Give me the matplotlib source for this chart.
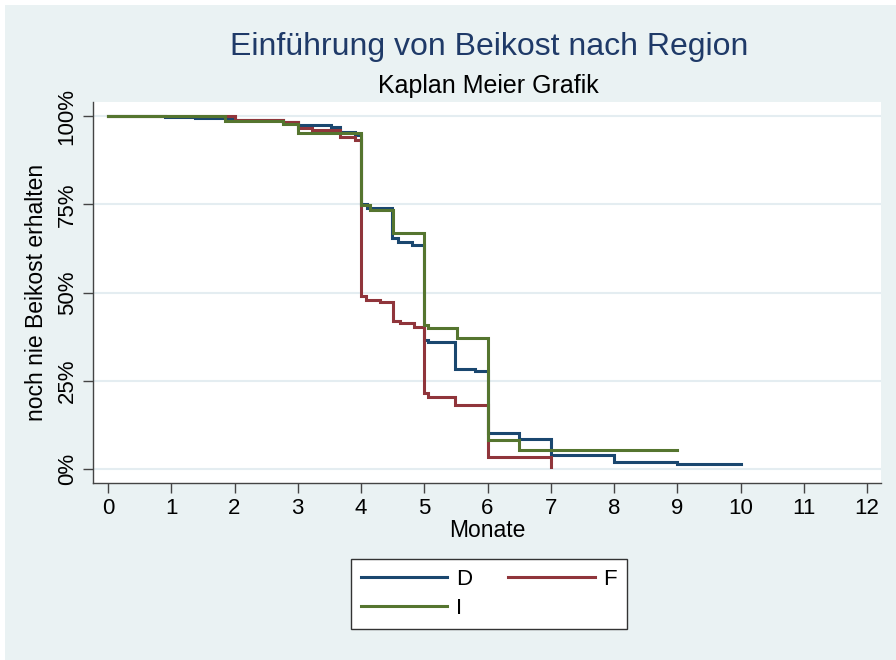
import matplotlib
matplotlib.use("Agg")
import matplotlib.pyplot as plt
from matplotlib.patches import Rectangle

plt.rcParams['font.family'] = ['Liberation Sans', 'DejaVu Sans']

# Survival data (months, survival proportion)
d_time = [0, 0.9, 1.37, 2.0, 2.77, 3.0, 3.52, 3.67, 3.9, 4.0, 4.09, 4.49, 4.59, 4.8,
          5.0, 5.06, 5.49, 5.8, 6.0, 6.5, 7.0, 8.0, 9.0, 10.0]
d_surv = [1.0, 0.998, 0.995, 0.99, 0.984, 0.975, 0.968, 0.955, 0.946, 0.751, 0.739,
          0.654, 0.644, 0.635, 0.365, 0.36, 0.283, 0.278, 0.101, 0.085, 0.04, 0.019,
          0.014, 0.014]

f_time = [0, 2.0, 2.77, 3.0, 3.23, 3.67, 3.9, 4.0, 4.08, 4.3, 4.5, 4.62, 4.83,
          5.0, 5.06, 5.49, 6.0, 7.0]
f_surv = [1.0, 0.99, 0.982, 0.966, 0.96, 0.94, 0.932, 0.49, 0.478, 0.472, 0.42,
          0.414, 0.403, 0.215, 0.205, 0.181, 0.035, 0.005]

i_time = [0, 1.85, 2.77, 3.0, 4.0, 4.14, 4.5, 5.0, 5.06, 5.51, 6.0, 6.5, 9.0]
i_surv = [1.0, 0.987, 0.977, 0.953, 0.748, 0.734, 0.668, 0.408, 0.399, 0.371,
          0.082, 0.054, 0.054]

series_names = ["D", "F", "I"]
colors = {"D": "#1A476F", "F": "#90353B", "I": "#55752F"}

x_ticks = list(range(0, 13))
y_ticks = [0, 0.25, 0.5, 0.75, 1.0]
y_ticklabels = ["0%", "25%", "50%", "75%", "100%"]

W, H = 896, 660
fig = plt.figure(figsize=(W / 100, H / 100), dpi=100, facecolor="#EAF2F3")
# white screenshot border on top / left
fig.patches.append(Rectangle((0, 0), 5 / W, 1, transform=fig.transFigure,
                             facecolor="white", edgecolor="none", zorder=-1))
fig.patches.append(Rectangle((0, 1 - 5 / H), 1, 5 / H, transform=fig.transFigure,
                             facecolor="white", edgecolor="none", zorder=-1))

left, right, top, bottom = 93, 881, 102, 483
ax = fig.add_axes([left / W, 1 - bottom / H, (right - left) / W, (bottom - top) / H])
ax.set_facecolor("white")

data = {"D": (d_time, d_surv), "F": (f_time, f_surv), "I": (i_time, i_surv)}
handles = {}
for name in series_names:
    t, s = data[name]
    ln, = ax.step(t, s, where="post", color=colors[name], lw=2.2, label=name,
                  solid_joinstyle="miter")
    handles[name] = ln

ax.set_xlim(-0.237, 12.22)
ax.set_ylim(-0.04, 1.04)
ax.set_xticks(x_ticks)
ax.set_yticks(y_ticks)
ax.set_yticklabels(y_ticklabels, rotation=90, va="center")
ax.grid(axis="y", color="#E4EDF1", lw=1.5)
ax.set_axisbelow(True)
for sp in ["top", "right"]:
    ax.spines[sp].set_visible(False)
for sp in ["left", "bottom"]:
    ax.spines[sp].set_color("#444444")
    ax.spines[sp].set_linewidth(1.0)
ax.tick_params(axis="both", direction="out", length=7, width=1, color="#444444",
               labelsize=16, labelcolor="black", pad=4)

ax.set_xlabel("Monate", fontsize=16.5, labelpad=0)
ax.set_ylabel("noch nie Beikost erhalten", fontsize=16.5, labelpad=6)

cx = (left + right) / 2 / W
fig.text(489 / W, 1 - 47 / H, "Einführung von Beikost nach Region", ha="center",
         va="center", fontsize=23, color="#1F3A68")
fig.text(488 / W, 1 - 86 / H, "Kaplan Meier Grafik", ha="center", va="center",
         fontsize=18, color="black")

leg = fig.legend([handles["D"], handles["I"], handles["F"]], ["D", "I", "F"],
                 ncol=2, loc="center", bbox_to_anchor=(489 / W, 1 - 594 / H),
                 fontsize=16, handlelength=3.9, columnspacing=1.6,
                 frameon=True, fancybox=False, edgecolor="#333333",
                 facecolor="white", framealpha=1, borderpad=0.45,
                 labelspacing=0.35, handletextpad=0.4, borderaxespad=0)
leg.get_frame().set_linewidth(1.0)

fig.savefig("out.png", dpi=100, facecolor=fig.get_facecolor())
